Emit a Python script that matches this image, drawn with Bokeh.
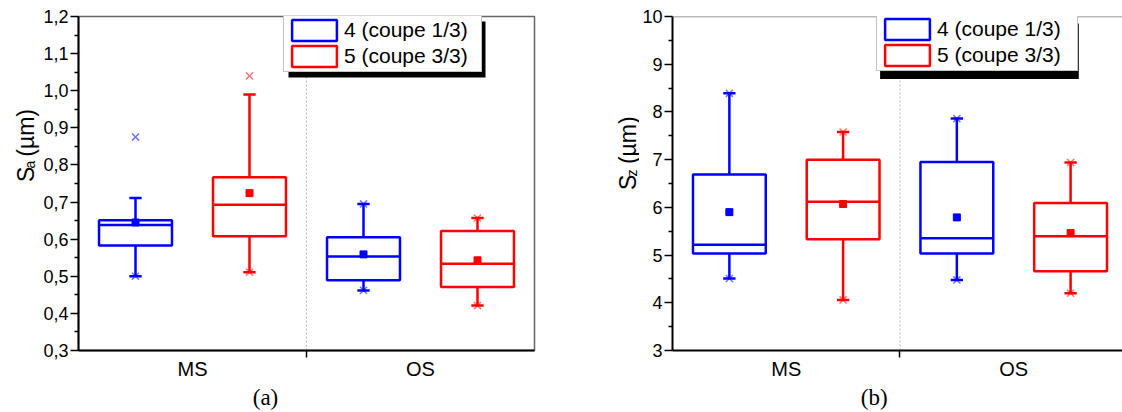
import math
from bokeh.plotting import figure
from bokeh.models import (Range1d, FixedTicker, Span, Legend, LegendItem, Title,
                          BoxAnnotation, ColumnDataSource)
from bokeh.core.properties import value
from bokeh.layouts import row
from bokeh.embed import file_html
from bokeh.resources import INLINE

# ---------------- data ----------------
categories = ["MS", "OS"]
series_names = ["4 (coupe 1/3)", "5 (coupe 3/3)"]
series_colors = ["#0000FF", "#FF0000"]

# (a) Sa (µm)
sa4_whisker_lo = [0.500, 0.462]
sa4_q1 = [0.583, 0.489]
sa4_median = [0.638, 0.553]
sa4_mean = [0.645, 0.559]
sa4_q3 = [0.651, 0.605]
sa4_whisker_hi = [0.711, 0.695]
sa4_min = [0.500, 0.462]
sa4_max = [0.875, 0.695]

sa5_whisker_lo = [0.511, 0.421]
sa5_q1 = [0.608, 0.471]
sa5_median = [0.693, 0.534]
sa5_mean = [0.724, 0.543]
sa5_q3 = [0.767, 0.622]
sa5_whisker_hi = [0.990, 0.657]
sa5_min = [0.511, 0.421]
sa5_max = [1.040, 0.657]

sa_ticks = [0.3, 0.4, 0.5, 0.6, 0.7, 0.8, 0.9, 1.0, 1.1, 1.2]
sa_tick_labels = ["0,3", "0,4", "0,5", "0,6", "0,7", "0,8", "0,9", "1,0", "1,1", "1,2"]

# (b) Sz (µm)
sz4_whisker_lo = [4.51, 4.48]
sz4_q1 = [5.035, 5.035]
sz4_median = [5.215, 5.35]
sz4_mean = [5.90, 5.79]
sz4_q3 = [6.69, 6.95]
sz4_whisker_hi = [8.39, 7.86]
sz4_min = [4.51, 4.48]
sz4_max = [8.39, 7.86]

sz5_whisker_lo = [4.06, 4.20]
sz5_q1 = [5.33, 4.66]
sz5_median = [6.12, 5.395]
sz5_mean = [6.07, 5.46]
sz5_q3 = [7.00, 6.09]
sz5_whisker_hi = [7.58, 6.94]
sz5_min = [4.06, 4.20]
sz5_max = [7.58, 6.94]

sz_ticks = [3, 4, 5, 6, 7, 8, 9, 10]
sz_tick_labels = ["3", "4", "5", "6", "7", "8", "9", "10"]

# ---------------- styling ----------------
FONT = "Liberation Sans"
SERIF = "Liberation Serif"
H = 412
BOX_HALF = 0.16
CAP_HALF = 0.027
OFFSETS = [-0.25, 0.25]


def ylabel_fig(x0, w, bx, sy_s, sy_sub, sy_unit, sub):
    """Narrow strip holding the rotated y-axis title S_sub (µm), in page pixels."""
    f = figure(width=w, height=H, output_backend="svg", toolbar_location=None,
               x_range=Range1d(x0, x0 + w), y_range=Range1d(H, 0),
               x_axis_type=None, y_axis_type=None, min_border=0,
               outline_line_color=None, background_fill_color="white",
               border_fill_color="white")
    f.grid.visible = False
    pieces = [(bx, sy_s, "S", "23px"), (bx + 4.5, sy_sub, sub, "14px"),
              (bx, sy_unit, "(µm)", "23px")]
    for tx, ty, txt, size in pieces:
        f.text(x=[tx], y=[ty], text=[txt], angle=math.pi / 2, text_align="left",
               text_baseline="alphabetic", text_font=value(FONT),
               text_font_size=value(size), text_color="black")
    return f


def make_panel(fig_x0, fig_w, frame_l, frame_r, frame_t, frame_b, x_end, yr,
               series, ticks, tick_labels, letter, letter_x,
               legend_pos, legend_w, full_outline):
    p = figure(width=fig_w, height=H, output_backend="svg", toolbar_location=None,
               x_range=Range1d(0, x_end), y_range=Range1d(yr[0], yr[1]),
               min_border_left=frame_l - fig_x0,
               min_border_right=fig_x0 + fig_w - frame_r,
               min_border_top=frame_t,
               min_border_bottom=H - frame_b,
               background_fill_color="white", border_fill_color="white")
    p.grid.visible = False

    def dx(px):
        return (px - frame_l) / (frame_r - frame_l) * x_end

    def dy(py):
        return yr[1] - (py - frame_t) / (frame_b - frame_t) * (yr[1] - yr[0])

    # divider between categories
    p.add_layout(Span(location=1.0, dimension="height", line_color="#b8b8b8",
                      line_width=1, line_dash="2 2", level="underlay"))

    if full_outline:
        p.outline_line_color = "#666666"
        p.outline_line_width = 1.5
    else:
        p.outline_line_color = None
        p.add_layout(Span(location=yr[1], dimension="width", line_color="#777777",
                          line_width=1.5))

    box_renderers = []
    for k, s in enumerate(series):
        xs = [i + 0.5 + OFFSETS[k] for i in range(len(categories))]
        src = ColumnDataSource(dict(
            x=xs,
            left=[x - BOX_HALF for x in xs], right=[x + BOX_HALF for x in xs],
            capl=[x - CAP_HALF for x in xs], capr=[x + CAP_HALF for x in xs],
            wlo=s["wlo"], q1=s["q1"], med=s["med"], mean=s["mean"],
            q3=s["q3"], whi=s["whi"], mn=s["min"], mx=s["max"]))
        c = series_colors[k]
        lw = 2.5
        p.segment("x", "q3", "x", "whi", source=src, line_color=c, line_width=lw)
        p.segment("x", "wlo", "x", "q1", source=src, line_color=c, line_width=lw)
        p.segment("capl", "whi", "capr", "whi", source=src, line_color=c, line_width=lw)
        p.segment("capl", "wlo", "capr", "wlo", source=src, line_color=c, line_width=lw)
        r = p.quad(left="left", right="right", bottom="q1", top="q3", source=src,
                   fill_color=None, line_color=c, line_width=lw)
        p.segment("left", "med", "right", "med", source=src, line_color=c, line_width=lw)
        p.scatter("x", "mean", source=src, marker="square", size=7,
                  fill_color=c, line_color=c)
        p.scatter("x", "mn", source=src, marker="x", size=10, line_color=c,
                  line_alpha=0.55, line_width=1.5)
        p.scatter("x", "mx", source=src, marker="x", size=10, line_color=c,
                  line_alpha=0.55, line_width=1.5)
        box_renderers.append(r)

    # axes
    xa = p.xaxis[0]
    xa.ticker = FixedTicker(ticks=[i + 0.5 for i in range(len(categories))],
                            minor_ticks=[1.0])
    xa.major_label_overrides = {i + 0.5: c for i, c in enumerate(categories)}
    xa.major_tick_line_color = None
    xa.major_tick_out = 0
    xa.major_tick_in = 0
    xa.minor_tick_line_color = "black"
    xa.minor_tick_line_width = 1.5
    xa.minor_tick_out = 7
    xa.minor_tick_in = 0
    xa.major_label_standoff = 0
    xa.major_label_text_font = FONT
    xa.major_label_text_font_size = "20px"
    xa.major_label_text_color = "black"
    xa.axis_line_width = 2
    xa.axis_line_color = "black"

    ya = p.yaxis[0]
    minor = [(a + b) / 2 for a, b in zip(ticks[:-1], ticks[1:])]
    ya.ticker = FixedTicker(ticks=ticks, minor_ticks=minor)
    ya.major_label_overrides = dict(zip(ticks, tick_labels))
    ya.major_tick_out = 8
    ya.major_tick_in = 0
    ya.minor_tick_out = 4
    ya.minor_tick_in = 0
    ya.major_tick_line_width = 1.5
    ya.minor_tick_line_width = 1.5
    ya.major_tick_line_color = "black"
    ya.minor_tick_line_color = "black"
    ya.major_label_standoff = 2
    ya.major_label_text_font = FONT
    ya.major_label_text_font_size = "18px"
    ya.major_label_text_color = "black"
    ya.axis_line_width = 2
    ya.axis_line_color = "black"

    # panel letter below the x axis
    letter_w = 23 * 1.11
    p.add_layout(Title(text=letter, align="left",
                       offset=letter_x - letter_w / 2 - frame_l,
                       text_font=SERIF, text_font_size="23px",
                       text_font_style="normal", text_color="black", standoff=0),
                 "below")

    # legend with drop shadow
    lx, ly = legend_pos
    lh = 56
    p.add_layout(BoxAnnotation(left=dx(lx + 5), right=dx(lx + legend_w + 5),
                               top=dy(ly + 5), bottom=dy(ly + lh + 5),
                               fill_color="black", fill_alpha=1, line_color=None))
    legend = Legend(
        items=[LegendItem(label=series_names[k], renderers=[box_renderers[k]])
               for k in range(len(series))],
        location=(lx - frame_l, frame_b - (ly + lh)),
        padding=2, spacing=0, margin=0,
        glyph_width=56, glyph_height=26, label_standoff=2,
        label_width=legend_w - 62, label_height=26,
        label_text_font=FONT, label_text_font_size="21px", label_text_color="black",
        border_line_color="#888888", border_line_width=1,
        background_fill_color="white", background_fill_alpha=1)
    p.add_layout(legend)
    return p


sa_series = [
    dict(wlo=sa4_whisker_lo, q1=sa4_q1, med=sa4_median, mean=sa4_mean, q3=sa4_q3,
         whi=sa4_whisker_hi, min=sa4_min, max=sa4_max),
    dict(wlo=sa5_whisker_lo, q1=sa5_q1, med=sa5_median, mean=sa5_mean, q3=sa5_q3,
         whi=sa5_whisker_hi, min=sa5_min, max=sa5_max),
]
sz_series = [
    dict(wlo=sz4_whisker_lo, q1=sz4_q1, med=sz4_median, mean=sz4_mean, q3=sz4_q3,
         whi=sz4_whisker_hi, min=sz4_min, max=sz4_max),
    dict(wlo=sz5_whisker_lo, q1=sz5_q1, med=sz5_median, mean=sz5_mean, q3=sz5_q3,
         whi=sz5_whisker_hi, min=sz5_min, max=sz5_max),
]

lab1 = ylabel_fig(0, 40, 25, 204, 187.5, 173, "a")
p1 = make_panel(fig_x0=40, fig_w=520, frame_l=78, frame_r=534, frame_t=16, frame_b=350,
                x_end=2.0, yr=(0.3, 1.2), series=sa_series,
                ticks=sa_ticks, tick_labels=sa_tick_labels,
                letter="(a)", letter_x=265,
                legend_pos=(283, 16), legend_w=197, full_outline=True)

lab2 = ylabel_fig(560, 79, 627, 214, 197.5, 182, "z")
p2 = make_panel(fig_x0=639, fig_w=483, frame_l=669, frame_r=1122, frame_t=15, frame_b=352,
                x_end=2.0 * 453 / 458, yr=(3, 10), series=sz_series,
                ticks=sz_ticks, tick_labels=sz_tick_labels,
                letter="(b)", letter_x=870,
                legend_pos=(873, 17), legend_w=200, full_outline=False)

layout = row(lab1, p1, lab2, p2)
open("out.html", "w").write(file_html(layout, INLINE))
